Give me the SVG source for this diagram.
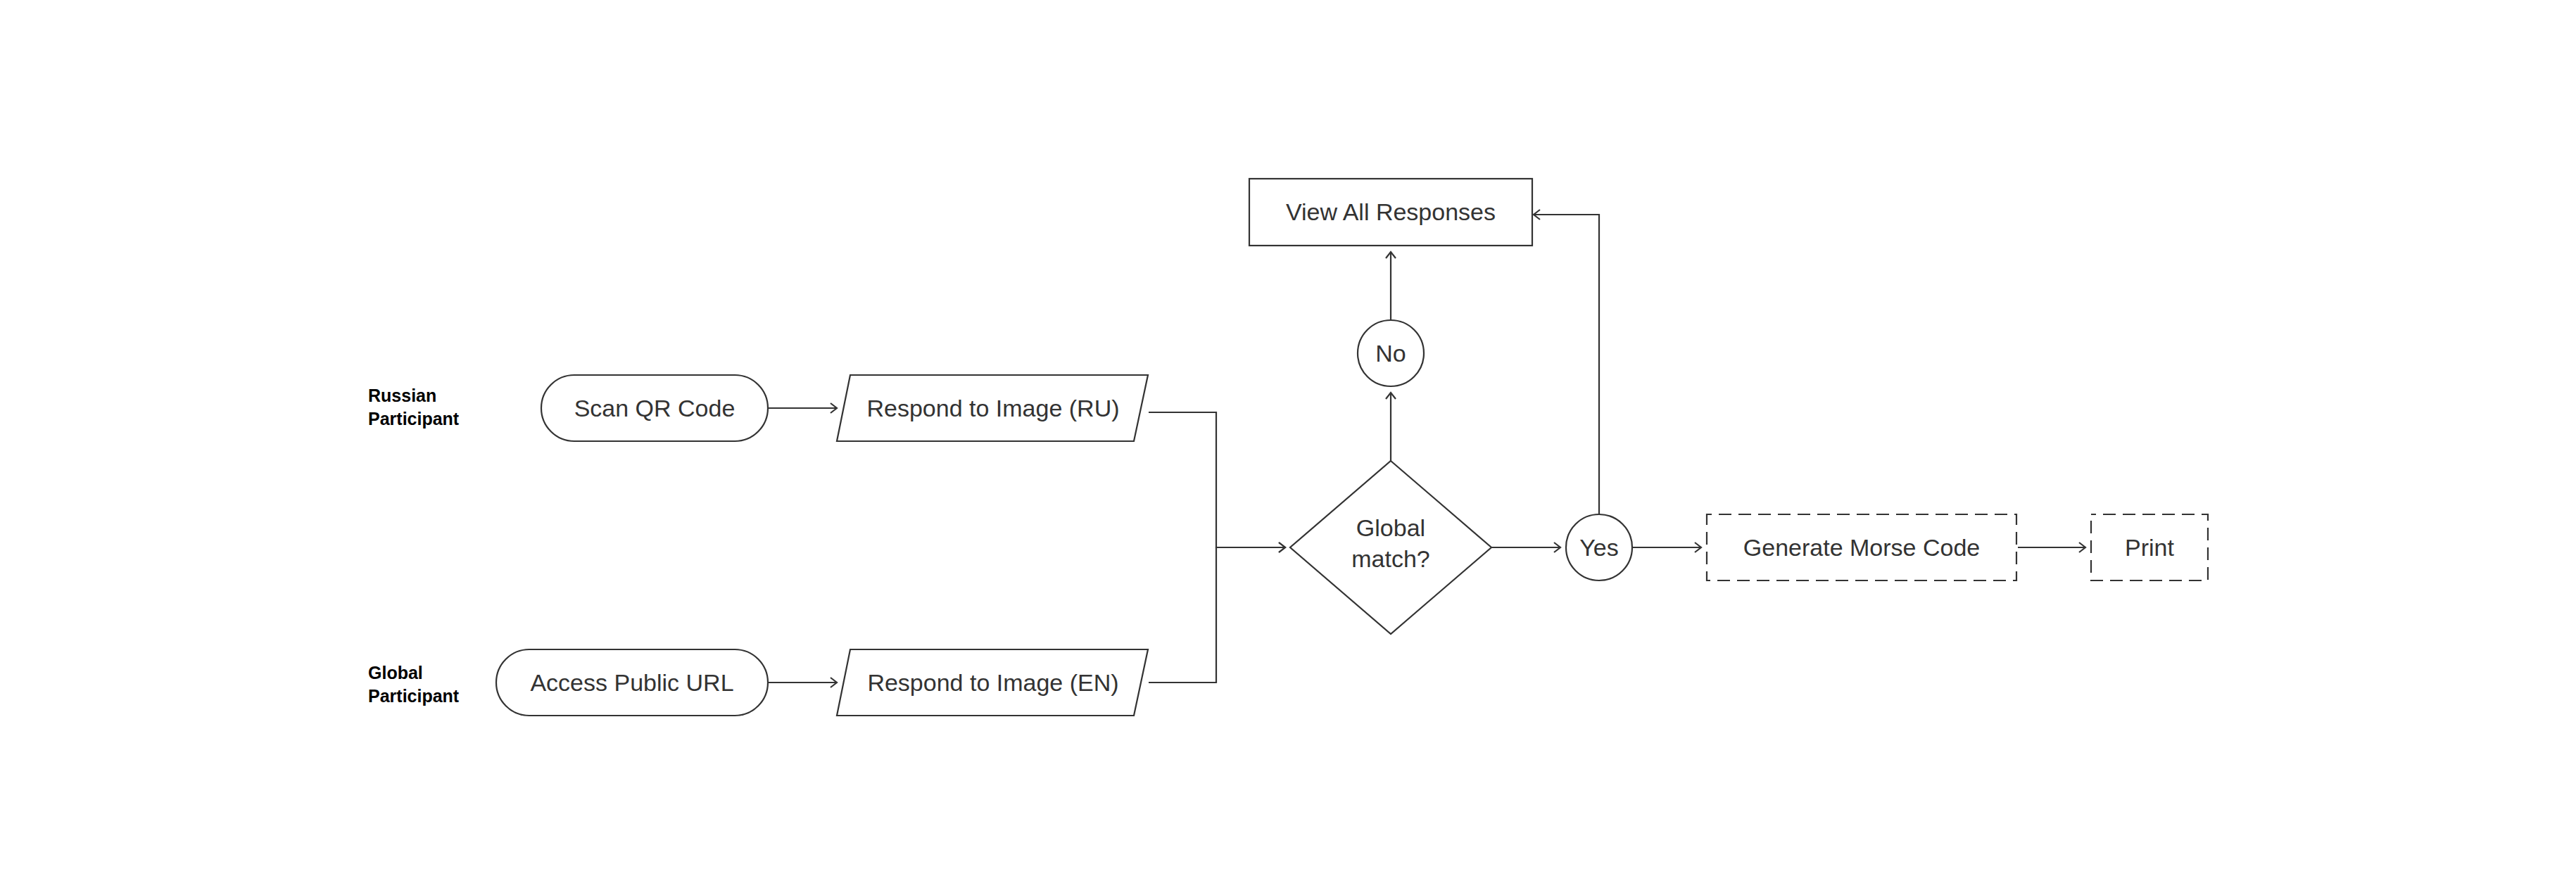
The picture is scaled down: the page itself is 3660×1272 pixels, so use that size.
<svg xmlns="http://www.w3.org/2000/svg" width="3660" height="1272" viewBox="0 0 3660 1272">
  <style>
    .shape { fill: #ffffff; stroke: #333333; stroke-width: 2.2; }
    .dashed { fill: #ffffff; stroke: #333333; stroke-width: 2.2; stroke-dasharray: 18 10; stroke-dashoffset: 11; }
    .edge { fill: none; stroke: #333333; stroke-width: 2.2; marker-end: url(#arrow); }
    .label { font-family: "Liberation Sans", Arial, sans-serif; font-size: 34px; fill: #333333; text-anchor: middle; }
    .lane { font-family: "Liberation Sans", Arial, sans-serif; font-size: 25px; font-weight: bold; fill: #000000; }
  </style>
  <defs>
    <marker id="arrow" markerUnits="userSpaceOnUse" markerWidth="24" markerHeight="24" viewBox="-12 -12 24 24" refX="0" refY="0" orient="auto">
      <path d="M-9,-7 L0,0 L-9,7" fill="none" stroke="#333333" stroke-width="2.2"/>
    </marker>
  </defs>
  <rect width="3660" height="1272" fill="#ffffff"/>

  <g id="lane-ru">
    <text class="lane" x="523" y="571">Russian</text>
    <text class="lane" x="523" y="604">Participant</text>
  </g>
  <g id="lane-global">
    <text class="lane" x="523" y="965">Global</text>
    <text class="lane" x="523" y="998">Participant</text>
  </g>

  <g id="connectors">
    <path class="edge" d="M1091,580 H1189"/>
    <path class="edge" d="M1091,970 H1189"/>
    <path class="edge" d="M1632,586 H1728 V778 H1826"/>
    <path class="edge" d="M1632,970 H1728 V778 H1826"/>
    <path class="edge" d="M1976,655 V558"/>
    <path class="edge" d="M1976,455 V358"/>
    <path class="edge" d="M2119,778 H2217"/>
    <path class="edge" d="M2272,731 V305 H2179"/>
    <path class="edge" d="M2319,778 H2417"/>
    <path class="edge" d="M2867,778 H2963"/>
  </g>

  <g id="scan-qr">
    <rect class="shape" x="769" y="533" width="322" height="94" rx="47" ry="47"/>
    <text class="label" x="930" y="592">Scan QR Code</text>
  </g>
  <g id="access-url">
    <rect class="shape" x="705" y="923" width="386" height="94" rx="47" ry="47"/>
    <text class="label" x="898" y="982">Access Public URL</text>
  </g>
  <g id="respond-ru">
    <polygon class="shape" points="1208,533 1631,533 1611,627 1189,627"/>
    <text class="label" x="1411" y="592">Respond to Image (RU)</text>
  </g>
  <g id="respond-en">
    <polygon class="shape" points="1208,923 1631,923 1611,1017 1189,1017"/>
    <text class="label" x="1411" y="982">Respond to Image (EN)</text>
  </g>
  <g id="global-match">
    <polygon class="shape" points="1976,655 2119,778 1976,901 1833,778"/>
    <text class="label" x="1976" y="762">Global</text>
    <text class="label" x="1976" y="806">match?</text>
  </g>
  <g id="no">
    <circle class="shape" cx="1976" cy="502" r="47"/>
    <text class="label" x="1976" y="514">No</text>
  </g>
  <g id="view-all">
    <rect class="shape" x="1775" y="254" width="402" height="95"/>
    <text class="label" x="1976" y="313">View All Responses</text>
  </g>
  <g id="yes">
    <circle class="shape" cx="2272" cy="778" r="47"/>
    <text class="label" x="2272" y="790">Yes</text>
  </g>
  <g id="generate-morse">
    <rect class="dashed" x="2425" y="731" width="440" height="94"/>
    <text class="label" x="2645" y="790">Generate Morse Code</text>
  </g>
  <g id="print">
    <rect class="dashed" x="2971" y="731" width="166" height="94"/>
    <text class="label" x="3054" y="790">Print</text>
  </g>
</svg>
